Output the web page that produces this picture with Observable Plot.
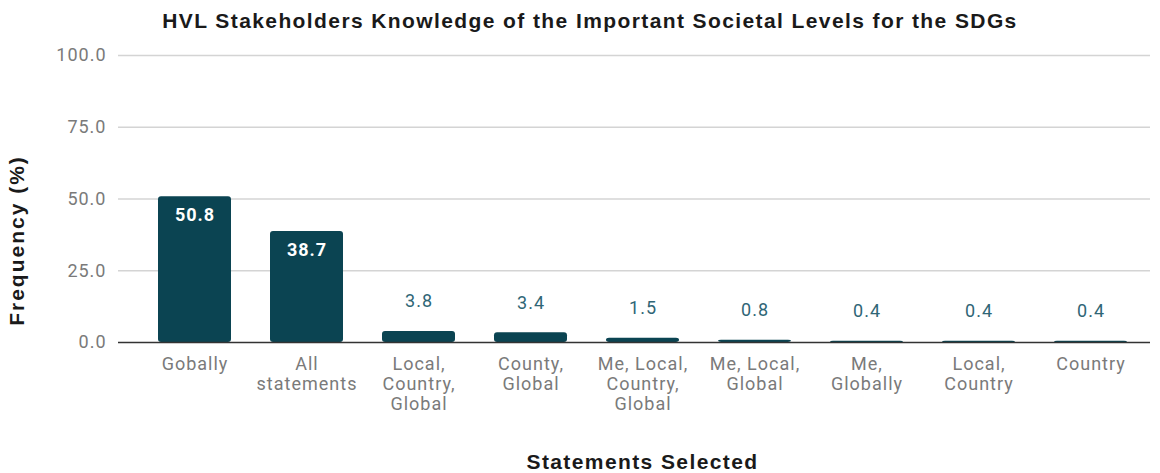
<!DOCTYPE html>
<html><head><meta charset="utf-8">
<script src="https://cdn.jsdelivr.net/npm/d3@7"></script>
<script src="https://cdn.jsdelivr.net/npm/@observablehq/plot@0.6"></script>
<style>
body{margin:0;background:#fff;}
#title{width:1180px;height:41px;line-height:41px;font-weight:bold;font-size:21px;letter-spacing:1.4px;font-family:"Liberation Sans",Arial,sans-serif;text-align:center;color:#1a1a1a;white-space:nowrap;}
</style></head>
<body><div id="title">HVL Stakeholders Knowledge of the Important Societal Levels for the SDGs</div><div id="chart"></div>
<script>
const categories = ["Gobally", "All\nstatements", "Local,\nCountry,\nGlobal", "County,\nGlobal", "Me, Local,\nCountry,\nGlobal", "Me, Local,\nGlobal", "Me,\nGlobally", "Local,\nCountry", "Country"];
const values = [50.8, 38.7, 3.8, 3.4, 1.5, 0.8, 0.4, 0.4, 0.4];
const yTicks = [0, 25, 50, 75, 100];
const yLabel = "Frequency (%)";
const xLabel = "Statements Selected";

const data = categories.map((c, i) => ({cat: c, value: values[i]}));
const barColor = "#0b4452";
const titleFont = "Liberation Sans, Arial, sans-serif";
const W = 1160, H = 432, ML = 118, MR = 10, MT = 14, MB = 131;
const chart = Plot.plot({
  width: W, height: H,
  marginLeft: ML, marginRight: MR, marginTop: MT, marginBottom: MB,
  style: {fontFamily: "Roboto, sans-serif", background: "white", overflow: "visible", letterSpacing: "1px"},
  x: {domain: categories, insetLeft: 17, paddingInner: 0.35, paddingOuter: 0.175},
  y: {domain: [0, 100]},
  marks: [
    Plot.ruleY(yTicks.filter(d => d > 0), {stroke: "#d4d4d4", strokeWidth: 1.4}),
    Plot.axisY(yTicks, {tickSize: 0, tickPadding: 12, tickFormat: d => d.toFixed(1), fontSize: 18, fill: "#7a7a7a", label: null}),
    Plot.barY(data, {x: "cat", y: "value", fill: barColor, rx: 3}),
    Plot.ruleY([0], {stroke: "#333", strokeWidth: 1.5}),
    Plot.axisX({tickSize: 0, tickPadding: 13, fontSize: 18, fill: "#7a7a7a", lineHeight: 1.11, label: null}),
    Plot.text(data.filter(d => d.value >= 10), {x: "cat", y: "value", text: d => d.value.toFixed(1), dy: 19, fill: "white", fontWeight: "bold", fontSize: 18}),
    Plot.text(data.filter(d => d.value < 10), {x: "cat", y: "value", text: d => d.value.toFixed(1), dy: -30, fill: "#2f6676", fontSize: 18}),
    Plot.text([yLabel], {frameAnchor: "left", rotate: -90, textAnchor: "middle", lineAnchor: "middle", fontWeight: "bold", fontSize: 21, fontFamily: titleFont, fill: "#1a1a1a"}),
    Plot.text([xLabel], {frameAnchor: "bottom", textAnchor: "middle", lineAnchor: "middle", fontWeight: "bold", fontSize: 21, fontFamily: titleFont, fill: "#1a1a1a"})
  ]
});
const svg = d3.select(chart);
const midY = (MT + H - MB) / 2;
const xMid = (ML + 17 + W - MR) / 2;
function place(label, transform, spacing) {
  svg.selectAll("text").filter(function() { return this.textContent === label; })
    .attr("x", null).attr("y", null)
    .attr("transform", transform)
    .style("letter-spacing", spacing)
    .each(function() { this.parentNode.removeAttribute("transform"); });
}
place(yLabel, `translate(${ML - 94},${midY + 42}) rotate(-90)`, "2px");
place(xLabel, `translate(${xMid},${H - MB + 127})`, "1.4px");
document.getElementById("chart").appendChild(chart);
</script>
</body></html>
